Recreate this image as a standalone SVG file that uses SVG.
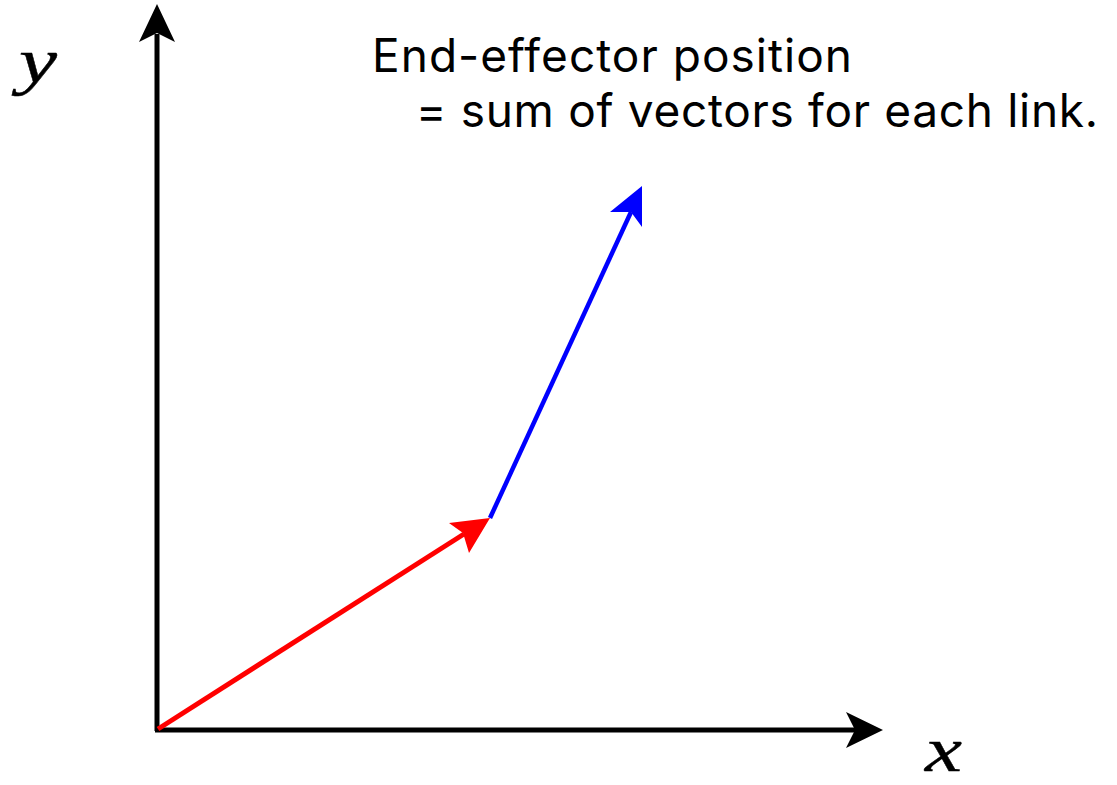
<svg xmlns="http://www.w3.org/2000/svg" width="1117" height="785" viewBox="0 0 1117 785">
<style>
.lbl{font-family:Inter,"Noto Sans",sans-serif;font-size:46px;fill:#000}
.math{font-family:"Liberation Serif","DejaVu Serif",serif;font-style:italic;font-size:63px;fill:#000;stroke:#000;stroke-width:0.4}
</style>
<rect width="1117" height="785" fill="#fff"/>
<g id="connectors">
<g id="y-axis">
<line x1="157" y1="731" x2="157" y2="34" stroke="#000" stroke-width="5"/>
<path d="M157,4 L175,42 L157,33 L139,42 Z" fill="#000"/>
</g>
<g id="x-axis">
<line x1="155" y1="730" x2="856" y2="730" stroke="#000" stroke-width="5"/>
<path d="M883,730 L846,748 L855,730 L846,712 Z" fill="#000"/>
</g>
<g id="link1">
<line x1="158" y1="729" x2="464" y2="534" stroke="#f00" stroke-width="5"/>
<path d="M490,518 L469,553 L463,533 L449,523 Z" fill="#f00"/>
</g>
<g id="link2">
<line x1="490" y1="518" x2="631" y2="212" stroke="#00f" stroke-width="4.5"/>
<path d="M642,186 L642,227 L631,212 L610,212 Z" fill="#00f"/>
</g>
</g>
<g id="label">
<text class="lbl" x="372" y="72" textLength="480" lengthAdjust="spacing">End-effector position</text>
<text class="lbl" x="416" y="127" textLength="682" lengthAdjust="spacing">= sum of vectors for each link.</text>
</g>
<g id="y-label"><text class="math" x="19" y="82" textLength="38" lengthAdjust="spacingAndGlyphs">y</text></g>
<g id="x-label"><text class="math" x="925" y="771" textLength="37" lengthAdjust="spacingAndGlyphs">x</text></g>
</svg>
